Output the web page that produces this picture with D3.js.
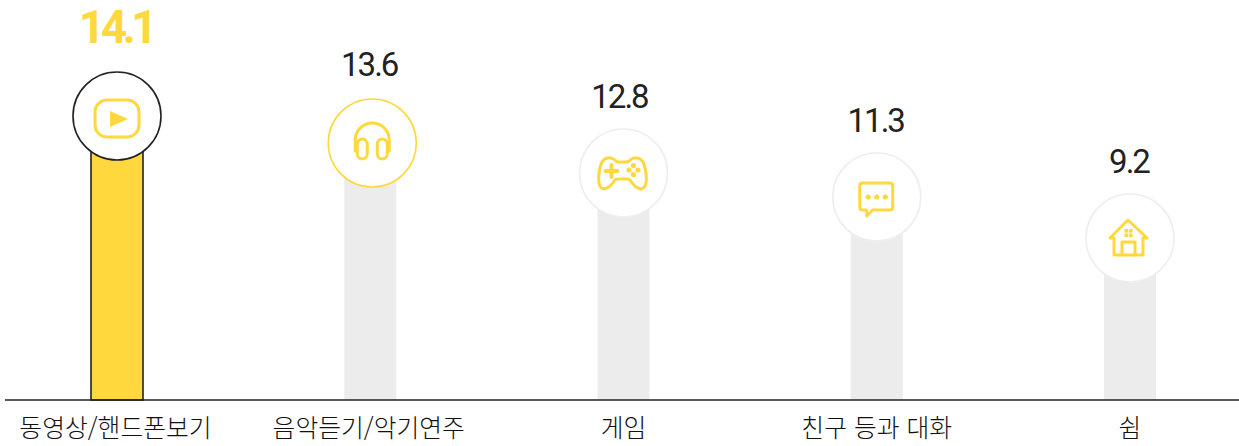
<!DOCTYPE html>
<html lang="ko">
<head>
<meta charset="utf-8">
<script src="https://cdn.jsdelivr.net/npm/d3@7"></script>
<style>
  html, body { margin: 0; background: #fff; }
  svg { display: block; }
  .cat { font-family: "Noto Sans CJK KR", sans-serif; font-size: 24.8px; font-weight: 300; fill: #111; text-anchor: middle; }
  .val { font-family: Roboto, sans-serif; font-size: 33px; font-weight: 400; letter-spacing: -2px; fill: #222; text-anchor: middle; }
  .val.top { font-size: 46px; font-weight: 700; letter-spacing: -4.5px; fill: #ffd83d; }
</style>
</head>
<body>
<div id="chart"></div>
<script>
const categories = ["동영상/핸드폰보기", "음악듣기/악기연주", "게임", "친구 등과 대화", "쉼"];
const values = [14.1, 13.6, 12.8, 11.3, 9.2];
const icons = ["play", "headphones", "gamepad", "chat", "house"];

const width = 1239, height = 446;
const baseY = 400, radius = 44, barW = 52;
const gold = "#ffd83d", grey = "#ececec";

const svg = d3.select("#chart").append("svg")
    .attr("width", width)
    .attr("height", height)
    .attr("viewBox", `0 0 ${width} ${height}`);

const x = d3.scalePoint().domain(categories).range([117, 1130]);

// the original infographic's heights are not proportional, so the scale has several stops
const y = d3.scaleLinear()
    .domain([9.2, 11.3, 12.8, 13.6, 14.1])
    .range([238, 197, 173, 143, 116]);

const data = categories.map((c, i) => ({ cat: c, value: values[i], icon: icons[i], top: i === 0, i }));

// bars
svg.selectAll("rect.bar")
    .data(data)
    .join("rect")
    .classed("bar", true)
    .attr("x", d => x(d.cat) - barW / 2)
    .attr("y", d => y(d.value))
    .attr("width", barW)
    .attr("height", d => baseY - y(d.value))
    .attr("fill", d => d.top ? gold : grey)
    .attr("stroke", d => d.top ? "#222" : "none")
    .attr("stroke-width", 1.6);

// baseline
svg.append("line")
    .attr("x1", 5).attr("x2", width)
    .attr("y1", baseY).attr("y2", baseY)
    .attr("stroke", "#222")
    .attr("stroke-width", 1.6);

// category labels
svg.selectAll("text.cat")
    .data(data)
    .join("text")
    .classed("cat", true)
    .attr("x", d => x(d.cat) - (d.i < 2 ? 1.5 : 0))
    .attr("y", 437)
    .text(d => d.cat);

// value labels
svg.selectAll("text.val")
    .data(data)
    .join("text")
    .attr("class", d => d.top ? "val top" : "val")
    .attr("x", d => x(d.cat) - (d.i === 2 ? 4 : 1))
    .attr("y", d => y(d.value) - radius - (d.top ? 29 : d.i === 1 ? 23 : 21.5))
    .text(d => d.value.toFixed(1));

// circles with icons
const badge = svg.selectAll("g.badge")
    .data(data)
    .join("g")
    .classed("badge", true)
    .attr("transform", d => `translate(${x(d.cat) + (d.i === 1 ? 2 : 0)},${y(d.value)})`);

badge.append("circle")
    .attr("r", radius)
    .attr("fill", "#fff")
    .attr("stroke", d => d.i === 0 ? "#222" : d.i === 1 ? gold : "#eeeeee")
    .attr("stroke-width", 1.6);

const iconLine = g => g.attr("fill", "none").attr("stroke", gold)
    .attr("stroke-width", 3).attr("stroke-linejoin", "round").attr("stroke-linecap", "round");

const drawIcon = {
    play(g) {
        g.append("rect").attr("x", -22).attr("y", -16).attr("width", 44).attr("height", 37).attr("rx", 12).call(iconLine);
        g.append("path").attr("d", "M-7,-5L11,3L-7,11Z").attr("fill", gold);
    },
    headphones(g) {
        g.append("path").attr("d", "M-17,8V-3A17,17 0 0 1 17,-3V8").call(iconLine);
        [-15, 5].forEach(cx => {
            g.append("rect").attr("x", cx).attr("y", -4).attr("width", 10).attr("height", 20).attr("rx", 5).call(iconLine);
        });
    },
    gamepad(g) {
        g.attr("transform", "translate(-1,0)");
        g.append("path")
            .attr("d", "M-15,-15C-10,-16 -8,-13 -5,-11H5C8,-13 10,-16 15,-15C20,-14 22,-9 23,-3C24,3 25,10 22,14C19,18 13,15 9,9C8,7 7,6 5,6H-5C-7,6 -8,7 -9,9C-13,15 -19,18 -22,14C-25,10 -24,3 -23,-3C-22,-9 -20,-14 -15,-15Z")
            .call(iconLine);
        g.append("path").attr("d", "M-11,-8V4M-17,-2H-5").call(iconLine).attr("stroke-width", 4);
        [[0, -4.5], [4.5, 0], [0, 4.5], [-4.5, 0]].forEach(p => {
            g.append("circle").attr("cx", 11 + p[0]).attr("cy", -3 + p[1]).attr("r", 2.6).attr("fill", gold);
        });
    },
    chat(g) {
        g.append("path")
            .attr("d", "M-14,-14H13Q16,-14 16,-11V10Q16,13 13,13H-4L-10,19V13H-14Q-17,13 -17,10V-11Q-17,-14 -14,-14Z")
            .call(iconLine);
        [-8.5, 0, 8.5].forEach(cx => {
            g.append("circle").attr("cx", cx).attr("cy", 0).attr("r", 2.6).attr("fill", gold);
        });
    },
    house(g) {
        g.attr("transform", "translate(-1,0)");
        g.append("path").attr("d", "M-1,-18L-19,0H-15V17H14V0H18Z").call(iconLine);
        g.append("path").attr("d", "M-7,17V4H6V17").call(iconLine);
        [[-4.5, -9], [0, -9], [-4.5, -4.5], [0, -4.5]].forEach(p => {
            g.append("rect").attr("x", p[0]).attr("y", p[1]).attr("width", 3.6).attr("height", 3.6).attr("fill", gold);
        });
    }
};

badge.each(function (d) {
    drawIcon[d.icon](d3.select(this).append("g"));
});
</script>
</body>
</html>
